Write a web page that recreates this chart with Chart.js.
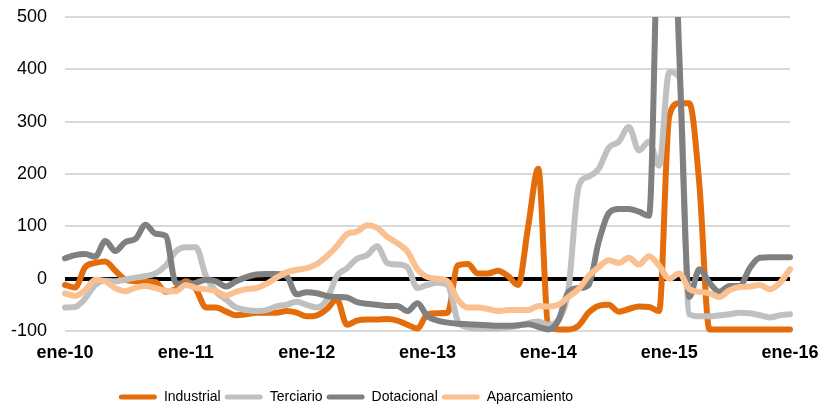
<!DOCTYPE html>
<html><head><meta charset="utf-8">
<script src="https://cdn.jsdelivr.net/npm/chart.js@4.4.1/dist/chart.umd.min.js"></script>
<style>html,body{margin:0;padding:0;background:#fff;} #wrap{width:822px;height:405px;position:relative;}</style>
</head><body><div id="wrap"><canvas id="c" width="822" height="405"></canvas></div>
<script>
const monthNames = ['ene','feb','mar','abr','may','jun','jul','ago','sep','oct','nov','dic'];
const years = ['10','11','12','13','14','15','16'];
const labels = [];
years.forEach(y => monthNames.forEach(m => { if (labels.length < 73) labels.push(m + '-' + y); }));

const industrial = [-12,-17,22,30,33,15,-2,-5,-6,-7,-25,-20,-5,-20,-55,-55,-63,-70,-68,-65,-65,-65,-62,-65,-72,-70,-58,-40,-88,-80,-78,-78,-77,-80,-88,-95,-68,-66,-65,25,28,10,10,15,5,-12,100,210,-90,-97,-97,-90,-65,-52,-50,-63,-58,-53,-54,-62,310,335,335,180,-97,-97,-97,-97,-97,-97,-97,-97,-97];
const terciario = [-55,-54,-38,-12,-4,-5,-2,2,5,10,25,52,60,60,5,-25,-40,-55,-60,-62,-60,-53,-50,-44,-50,-55,-40,5,20,38,45,62,30,27,22,-18,-12,-8,-12,-80,-93,-95,-95,-95,-93,-90,-85,-82,-88,-78,-20,175,195,210,250,262,290,245,262,216,395,385,-68,-72,-72,-70,-68,-65,-66,-70,-74,-70,-68];
const dotacional = [39,45,47,42,72,53,70,76,103,86,82,-8,-10,-8,-2,-5,-15,-5,3,8,9,9,5,-30,-26,-28,-33,-35,-36,-45,-48,-50,-52,-52,-62,-47,-72,-80,-84,-86,-87,-88,-89,-90,-90,-89,-87,-92,-97,-80,-25,-18,-12,70,125,133,133,128,120,760,900,430,-35,18,-8,-25,-14,-14,20,40,41,41,41];
const aparcamiento = [-28,-33,-22,-2,-5,-18,-24,-17,-14,-18,-23,-24,-12,-18,-20,-24,-32,-25,-20,-18,-10,2,12,17,20,28,43,62,85,90,102,97,80,68,52,18,3,0,-5,-40,-55,-55,-58,-62,-60,-60,-60,-52,-53,-50,-35,-20,5,22,35,30,40,27,43,25,0,10,-20,-25,-28,-35,-22,-16,-15,-12,-20,-8,18];
const yTicks = [-100, 0, 100, 200, 300, 400, 500];

function ds(label, data, color, order) {
  return { label, data, borderColor: color, backgroundColor: color, borderWidth: 6, pointRadius: 0,
    cubicInterpolationMode: 'monotone', borderCapStyle: 'round', borderJoinStyle: 'round', order,
    clip: {left: 6, right: 6, top: 0, bottom: 6} };
}

const legendShift = {x: -65, y: 9};

new Chart(document.getElementById('c'), {
  type: 'line',
  data: { labels, datasets: [
    ds('Industrial', industrial, '#E46C0A', 3),
    ds('Terciario', terciario, '#C0C0C0', 2),
    ds('Dotacional', dotacional, '#808080', 1),
    ds('Aparcamiento', aparcamiento, '#FAC090', 0)
  ]},
  options: {
    responsive: false, animation: false,
    layout: { padding: 0 },
    scales: {
      x: {
        grid: { display: false, drawTicks: false }, border: { display: false },
        ticks: { autoSkip: false, maxRotation: 0, minRotation: 0, padding: 11, color: '#000',
          font: { family: "'Liberation Sans', Arial, sans-serif", size: 18, weight: 'bold' },
          callback: (v, i) => (i % 12 === 0 ? labels[i] : '') },
        afterFit: (s) => { s.height = 46; s.paddingLeft = 0; s.paddingRight = 32; }
      },
      y: {
        min: yTicks[0], max: yTicks[yTicks.length - 1],
        afterBuildTicks: (s) => { s.ticks = yTicks.map(v => ({ value: v })); },
        ticks: { padding: 18, color: '#000', font: { family: "'Liberation Sans', Arial, sans-serif", size: 18 } },
        grid: { drawTicks: false,
          color: (c) => (c.tick && c.tick.value === 0 ? '#000' : '#d9d9d9'),
          lineWidth: (c) => (c.tick && c.tick.value === 0 ? 4 : 2) },
        border: { display: false },
        afterFit: (s) => { s.width = 65; s.paddingTop = 17; s.paddingBottom = 11; }
      }
    },
    plugins: {
      tooltip: { enabled: false },
      legend: {
        position: 'bottom',
        labels: {
          boxWidth: 38, boxHeight: 5, padding: 4, color: '#000', useBorderRadius: true, borderRadius: 2.5,
          font: { family: "'Liberation Sans', Arial, sans-serif", size: 14 },
          generateLabels: (chart) => chart.data.datasets.map((d, i) => ({
            text: d.label, fillStyle: d.borderColor, strokeStyle: d.borderColor, lineWidth: 0,
            hidden: false, datasetIndex: i, borderRadius: 2.5, fontColor: '#000'
          }))
        }
      }
    }
  },
  plugins: [{
    id: 'legendPos',
    afterLayout(chart) {
      const lg = chart.legend;
      if (!lg) return;
      lg.left += legendShift.x; lg.right += legendShift.x;
      lg.top += legendShift.y; lg.bottom += legendShift.y;
    }
  }]
});
</script></body></html>
